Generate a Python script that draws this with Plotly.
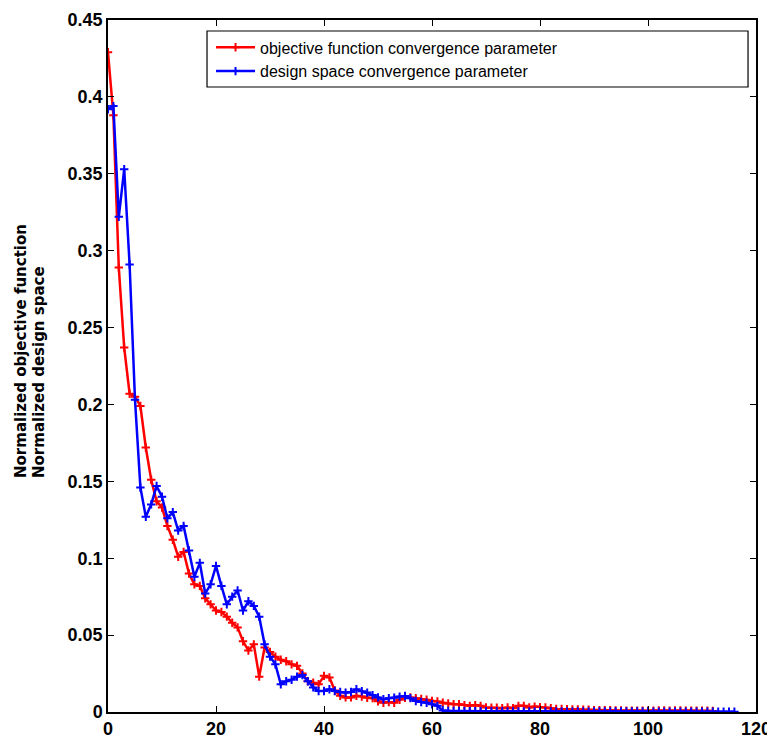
import plotly.graph_objects as go

# ---- data ----
red_name = "objective function convergence parameter"
blue_name = "design space convergence parameter"

red_y = [
    0.429, 0.388, 0.289, 0.237, 0.207, 0.205, 0.199, 0.172, 0.151, 0.137,
    0.133, 0.121, 0.112, 0.101, 0.104, 0.090, 0.083, 0.082, 0.074, 0.070,
    0.066, 0.065, 0.062, 0.058, 0.055, 0.046, 0.040, 0.044, 0.023, 0.042,
    0.039, 0.036, 0.034, 0.033, 0.031, 0.030, 0.025, 0.020, 0.019, 0.018,
    0.0235, 0.0225, 0.014, 0.0105, 0.0095, 0.0095, 0.0105, 0.010, 0.0093, 0.009,
    0.007, 0.006, 0.0065, 0.006, 0.008, 0.0093, 0.0095, 0.009, 0.0085, 0.008,
    0.0072, 0.0068, 0.006, 0.0055, 0.005, 0.005, 0.0045, 0.004, 0.0045, 0.004,
    0.003, 0.0028, 0.0028, 0.0025, 0.003, 0.0025, 0.004, 0.004, 0.003, 0.0035,
    0.0032, 0.003, 0.0025, 0.002, 0.002, 0.0018, 0.0017, 0.0016, 0.0015, 0.0015,
    0.0012, 0.0012, 0.0011, 0.0011, 0.0010, 0.0010, 0.0009, 0.0009, 0.0009, 0.0008,
    0.0008, 0.0009, 0.0010, 0.0010, 0.0009, 0.0010, 0.0010, 0.0009, 0.0009, 0.0008,
    0.0008, 0.0008, 0.0007,
]

blue_y = [
    0.392, 0.394, 0.322, 0.353, 0.291, 0.203, 0.146, 0.127, 0.135, 0.147,
    0.140, 0.126, 0.130, 0.118, 0.121, 0.105, 0.088, 0.097, 0.077, 0.083,
    0.095, 0.082, 0.070, 0.075, 0.079, 0.066, 0.072, 0.069, 0.062, 0.044,
    0.036, 0.031, 0.018, 0.020, 0.021, 0.023, 0.024, 0.020, 0.016, 0.0137,
    0.0137, 0.0148, 0.0137, 0.013, 0.0126, 0.013, 0.0148, 0.0135, 0.0126, 0.011,
    0.0095, 0.0083, 0.009, 0.0093, 0.010, 0.0104, 0.009, 0.0072, 0.0065, 0.006,
    0.005, 0.004, 0.001, 0.0007, 0.0007, 0.0007, 0.0006, 0.0006, 0.0006, 0.0005,
    0.0005, 0.0005, 0.0005, 0.0005, 0.0004, 0.0004, 0.0004, 0.0004, 0.0004, 0.0004,
    0.0004, 0.0004, 0.0003, 0.0003, 0.0003, 0.0003, 0.0003, 0.0003, 0.0003, 0.0003,
    0.0003, 0.0003, 0.0003, 0.0003, 0.0003, 0.0003, 0.0003, 0.0003, 0.0003, 0.0003,
    0.0003, 0.0002, 0.0002, 0.0002, 0.0002, 0.0002, 0.0002, 0.0002, 0.0002, 0.0002,
    0.0002, 0.0002, 0.0002, 0.0002, 0.0002, 0.0002, 0.0002,
]

red_x = list(range(len(red_y)))
blue_x = list(range(len(blue_y)))

x_ticks = [0, 20, 40, 60, 80, 100, 120]
y_ticks = [0, 0.05, 0.1, 0.15, 0.2, 0.25, 0.3, 0.35, 0.4, 0.45]
y_tick_text = ["0", "0.05", "0.1", "0.15", "0.2", "0.25", "0.3", "0.35", "0.4", "0.45"]
y_title_lines = ["Normalized objective function", "Normalized design space"]

# ---- figure ----
# The page body has an 8px margin, so the figure is drawn 8px in from the
# window's top-left corner; sizes/margins below account for that.
fig = go.Figure()
fig.add_trace(go.Scatter(
    x=red_x, y=red_y, name=red_name, mode="lines+markers",
    line=dict(color="#FF0000", width=2.5),
    marker=dict(symbol="cross-thin", size=6, color="#FF0000",
                line=dict(color="#FF0000", width=2)),
))
fig.add_trace(go.Scatter(
    x=blue_x, y=blue_y, name=blue_name, mode="lines+markers",
    line=dict(color="#0000FF", width=2.5),
    marker=dict(symbol="cross-thin", size=6, color="#0000FF",
                line=dict(color="#0000FF", width=2)),
))

axis_common = dict(
    showline=True, linecolor="black", linewidth=1.5, mirror="ticks",
    ticks="inside", ticklen=6, tickcolor="black", tickwidth=1,
    showgrid=False, zeroline=False, automargin=False,
    tickfont=dict(family="Liberation Sans, Arial, sans-serif", size=18,
                  color="black", weight="bold"),
)

PLOT_L, PLOT_T, PLOT_W, PLOT_H = 108, 20, 648, 692  # window pixels

title_font = dict(family="DejaVu Sans, sans-serif", size=15, color="black", weight="bold")
annotations = []
for txt, xc in zip(y_title_lines, [21, 39]):
    annotations.append(dict(
        text=txt, textangle=-90, showarrow=False,
        xref="paper", yref="paper",
        x=(xc - PLOT_L) / PLOT_W, y=1 - (480 - PLOT_T) / PLOT_H,
        xanchor="center", yanchor="bottom", font=title_font,
    ))

fig.update_layout(
    width=767, height=732,
    margin=dict(l=100, r=19, t=12, b=28),
    paper_bgcolor="white", plot_bgcolor="white",
    showlegend=True,
    legend=dict(
        x=0.159, y=0.985, xanchor="left", yanchor="top", itemwidth=39,
        bgcolor="rgba(0,0,0,0)", borderwidth=0,
        font=dict(family="Liberation Sans, Arial, sans-serif", size=16, color="black"),
    ),
    xaxis=dict(range=[0, 120], tickvals=x_ticks, **axis_common),
    yaxis=dict(range=[0, 0.45], tickvals=y_ticks, ticktext=y_tick_text, **axis_common),
    annotations=annotations,
    shapes=[dict(type="rect", xref="paper", yref="paper",
                 x0=0.1528, x1=0.9877, y0=0.9032, y1=0.9841,
                 line=dict(color="black", width=1.2), fillcolor="rgba(0,0,0,0)")],
)

fig.write_html("out.html")
